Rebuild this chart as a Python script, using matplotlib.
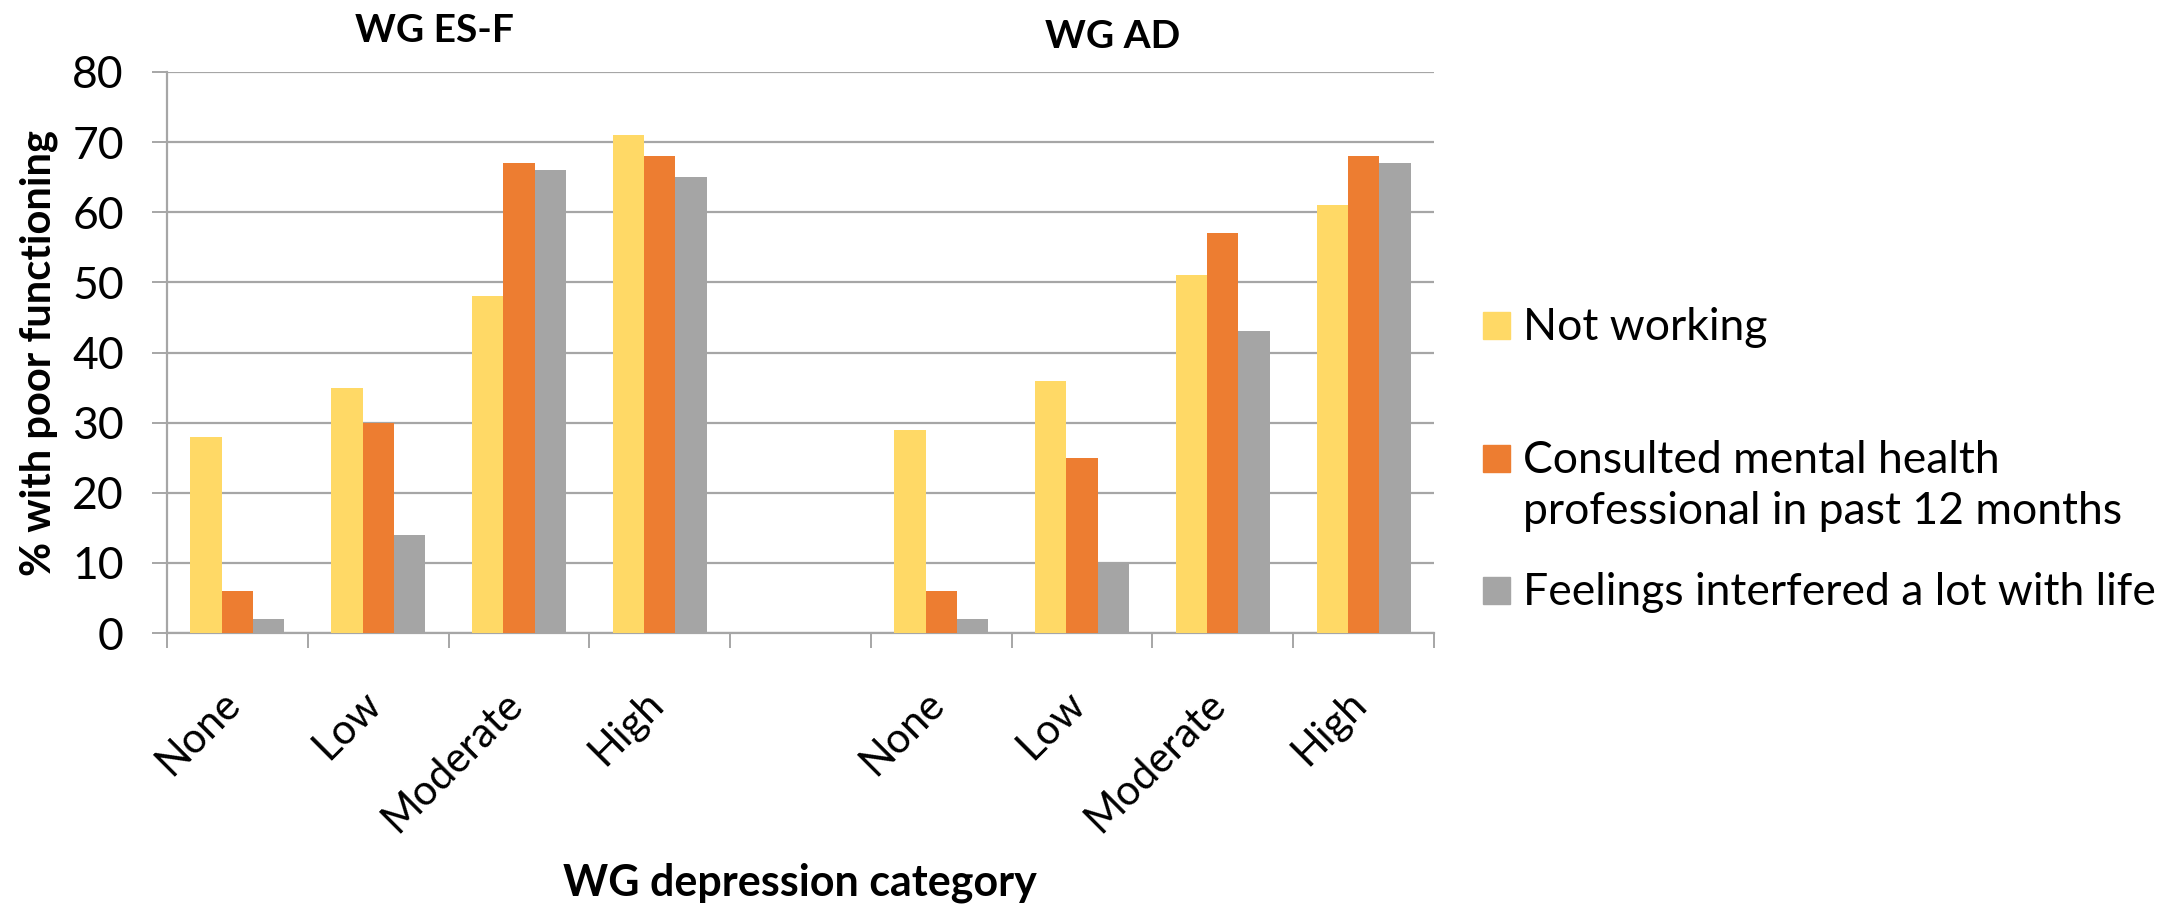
import matplotlib
matplotlib.use('Agg')
import matplotlib.pyplot as plt
from matplotlib.patches import Rectangle
import numpy as np

plt.rcParams['font.family'] = ['Lato', 'DejaVu Sans']

levels = ['None', 'Low', 'Moderate', 'High']
groups = ['WG ES-F', 'WG AD']
series = ['Not working',
          'Consulted mental health\nprofessional in past 12 months',
          'Feelings interfered a lot with life']
colors = ['#FFD966', '#ED7D31', '#A5A5A5']

# per group: ES-F then AD
not_working = [[28, 35, 48, 71], [29, 36, 51, 61]]
consulted = [[6, 30, 67, 68], [6, 25, 57, 68]]
interfered = [[2, 14, 66, 65], [2, 10, 43, 67]]
values = [not_working, consulted, interfered]

W, H = 2178, 906
fig = plt.figure(figsize=(W / 100, H / 100), dpi=100)
ax = fig.add_axes([167 / W, 1 - 633 / H, (1434 - 167) / W, (633 - 72) / H])

# 9 slots: 4 levels, one empty slot, 4 levels
pos = [np.arange(4), np.arange(4) + 5]
width = 1 / 4.5
for s in range(3):
    for g in range(2):
        ax.bar(pos[g] + (s - 1) * width, values[s][g], width,
               color=colors[s], zorder=3, linewidth=0)

ax.set_xlim(-0.5, 8.5)
ax.set_ylim(0, 80)
ax.set_yticks(range(0, 81, 10))
ax.grid(axis='y', color='#A6A6A6', linewidth=1.6, zorder=0)
ax.set_axisbelow(True)

for sp in ['top', 'right']:
    ax.spines[sp].set_visible(False)
for sp in ['left', 'bottom']:
    ax.spines[sp].set_color('#A6A6A6')
    ax.spines[sp].set_linewidth(1.6)

ax.set_xticks(np.arange(-0.5, 9, 1))
ax.set_xticklabels([])
ax.tick_params(axis='x', length=11, width=1.4, color='#A6A6A6')
ax.tick_params(axis='y', length=11, width=1.4, color='#A6A6A6',
               labelsize=32, pad=20)

# category labels, rotated
lab_pos = list(pos[0]) + list(pos[1])
for x, name in zip(lab_pos, levels * 2):
    ax.annotate(name, xy=(x, 0), xycoords=('data', 'axes fraction'),
                xytext=(-12, -37), textcoords='offset points',
                rotation=45, rotation_mode='anchor', ha='right', va='top',
                fontsize=30)

ax.set_ylabel('% with poor functioning', fontsize=30, fontweight='bold',
              labelpad=10)
fig.text(800 / W, 1 - 883 / H, 'WG depression category', fontsize=31,
         fontweight='bold', ha='center', va='center')

fig.text(434 / W, 1 - 30 / H, groups[0], fontsize=28, fontweight='bold',
         ha='center', va='center')
fig.text(1113 / W, 1 - 37 / H, groups[1], fontsize=28, fontweight='bold',
         ha='center', va='center')

# legend on the right
leg_y = [325, 458, 590]
for c, name, y in zip(colors, series, leg_y):
    fig.patches.append(Rectangle((1483 / W, 1 - (y + 14) / H), 27 / W, 27 / H,
                                 transform=fig.transFigure, color=c))
    fig.text(1523 / W, 1 - (y - 18) / H, name, fontsize=32, ha='left',
             va='top', linespacing=1.3)

fig.savefig('out.png', dpi=100)
